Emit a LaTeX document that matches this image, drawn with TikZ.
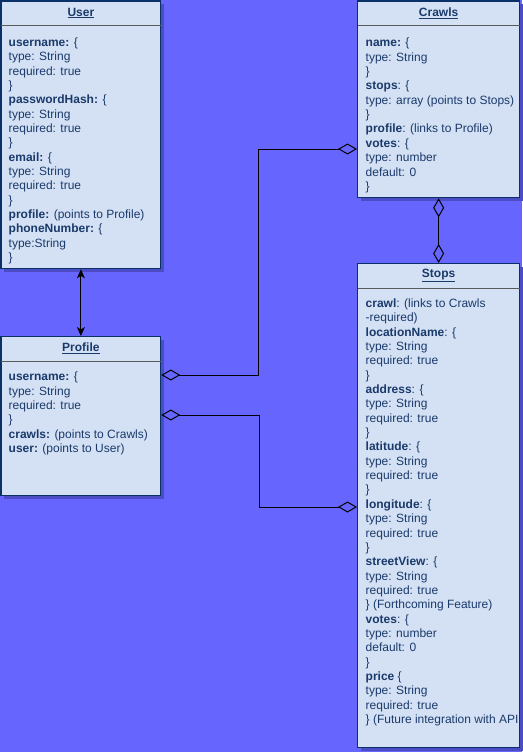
\documentclass[tikz,border=0pt]{standalone}
\usepackage{fontspec}
\setmainfont{Liberation Sans}
\usetikzlibrary{arrows.meta,shadows}
\definecolor{bgc}{HTML}{6666FF}
\definecolor{boxfill}{HTML}{D4E1F5}
\definecolor{boxline}{HTML}{0A3068}
\definecolor{shadowc}{HTML}{4C4CC4}
\definecolor{txt}{HTML}{1A3A6A}
\definecolor{sepc}{HTML}{5A5A5A}
\tikzset{
  umlbox/.style={draw=boxline, line width=1.3pt, fill=boxfill, anchor=north west, inner sep=0pt,
    drop shadow={shadow xshift=3pt, shadow yshift=-3pt, fill=shadowc, opacity=1}},
  sepline/.style={draw=sepc, line width=1pt},
  titletxt/.style={text=txt, font=\fontsize{12}{14.4}\selectfont\bfseries, inner sep=0pt},
  bodytxt/.style={text=txt, font=\fontsize{12}{14.35}\selectfont, align=left, anchor=north west, inner sep=0pt},
  agg/.style={draw=black, line width=1pt, {Diamond[open,length=19pt,width=11pt]}-{Diamond[open,length=19pt,width=11pt]}},
  assoc/.style={draw=black, line width=1pt, {Stealth[length=9pt,width=8pt,inset=2.5pt]}-{Stealth[length=9pt,width=8pt,inset=2.5pt]}}
}
\begin{document}
\begin{tikzpicture}[x=1pt,y=-1pt]
\useasboundingbox (0,0) rectangle (522,752);
\fill[bgc] (0,0) rectangle (522,752);

% boxes
\node[umlbox, minimum width=159.5pt, minimum height=267.5pt] (user) at (0.5,0.5) {};
\node[umlbox, minimum width=159.5pt, minimum height=159pt] (profile) at (0.5,336) {};
\node[umlbox, minimum width=162pt, minimum height=196.5pt] (crawls) at (357,0.5) {};
\node[umlbox, minimum width=162pt, minimum height=484pt] (stops) at (357,263) {};

% separators
\foreach \b in {user,profile,crawls,stops}{
  \draw[sepline] ([yshift=-25pt,xshift=0.65pt]\b.north west) -- ([yshift=-25pt,xshift=-0.65pt]\b.north east);
}

% titles
\node[titletxt] (usert) at ([yshift=-12.5pt]user.north) {\underline{User}};
\node[titletxt] (profilet) at ([yshift=-12.5pt]profile.north) {\underline{Profile}};
\node[titletxt] (crawlst) at ([yshift=-12.5pt]crawls.north) {\underline{Crawls}};
\node[titletxt] (stopst) at ([yshift=-12.5pt]stops.north) {\underline{Stops}};

% bodies
\node[bodytxt] (userb) at (8.5,37.5) {\textbf{username:} \{\\type: String\\required: true\\\}\\\textbf{passwordHash:} \{\\type: String\\required: true\\\}\\\textbf{email:} \{\\type: String\\required: true\\\}\\\textbf{profile:} (points to Profile)\\\textbf{phoneNumber:} \{\\type:String\\\}};

\node[bodytxt] (profileb) at (8.5,372) {\textbf{username:} \{\\type: String\\required: true\\\}\\\textbf{crawls:} (points to Crawls)\\\textbf{user:} (points to User)};

\node[bodytxt] (crawlsb) at (365.5,38) {\textbf{name:} \{\\type: String\\\}\\\textbf{stops}: \{\\type: array (points to Stops)\\\}\\\textbf{profile}: (links to Profile)\\\textbf{votes}: \{\\type: number\\default: 0\\\}};

\node[bodytxt] (stopsb) at (365.5,298.5) {\textbf{crawl}: (links to Crawls\\-required)\\\textbf{locationName}: \{\\type: String\\required: true\\\}\\\textbf{address}: \{\\type: String\\required: true\\\}\\\textbf{latitude}: \{\\type: String\\required: true\\\}\\\textbf{longitude}: \{\\type: String\\required: true\\\}\\\textbf{streetView}: \{\\type: String\\required: true\\\} (Forthcoming Feature)\\\textbf{votes}: \{\\type: number\\default: 0\\\}\\\textbf{price} \{\\type: String\\required: true\\\} (Future integration with API};

% connectors
\draw[assoc] (user.south) -- (profile.north);
\draw[agg] (crawls.south) -- (stops.north);
\coordinate (b1) at (258.5,149);
\coordinate (b2) at (258.5,375);
\coordinate (b3) at (259.5,415);
\coordinate (b4) at (259.5,507);
\draw[agg] (crawls.west |- b1) -- (b1) -- (b2) -- (profile.east |- b2);
\draw[agg] (profile.east |- b3) -- (b3) -- (b4) -- (stops.west |- b4);
\end{tikzpicture}
\end{document}
